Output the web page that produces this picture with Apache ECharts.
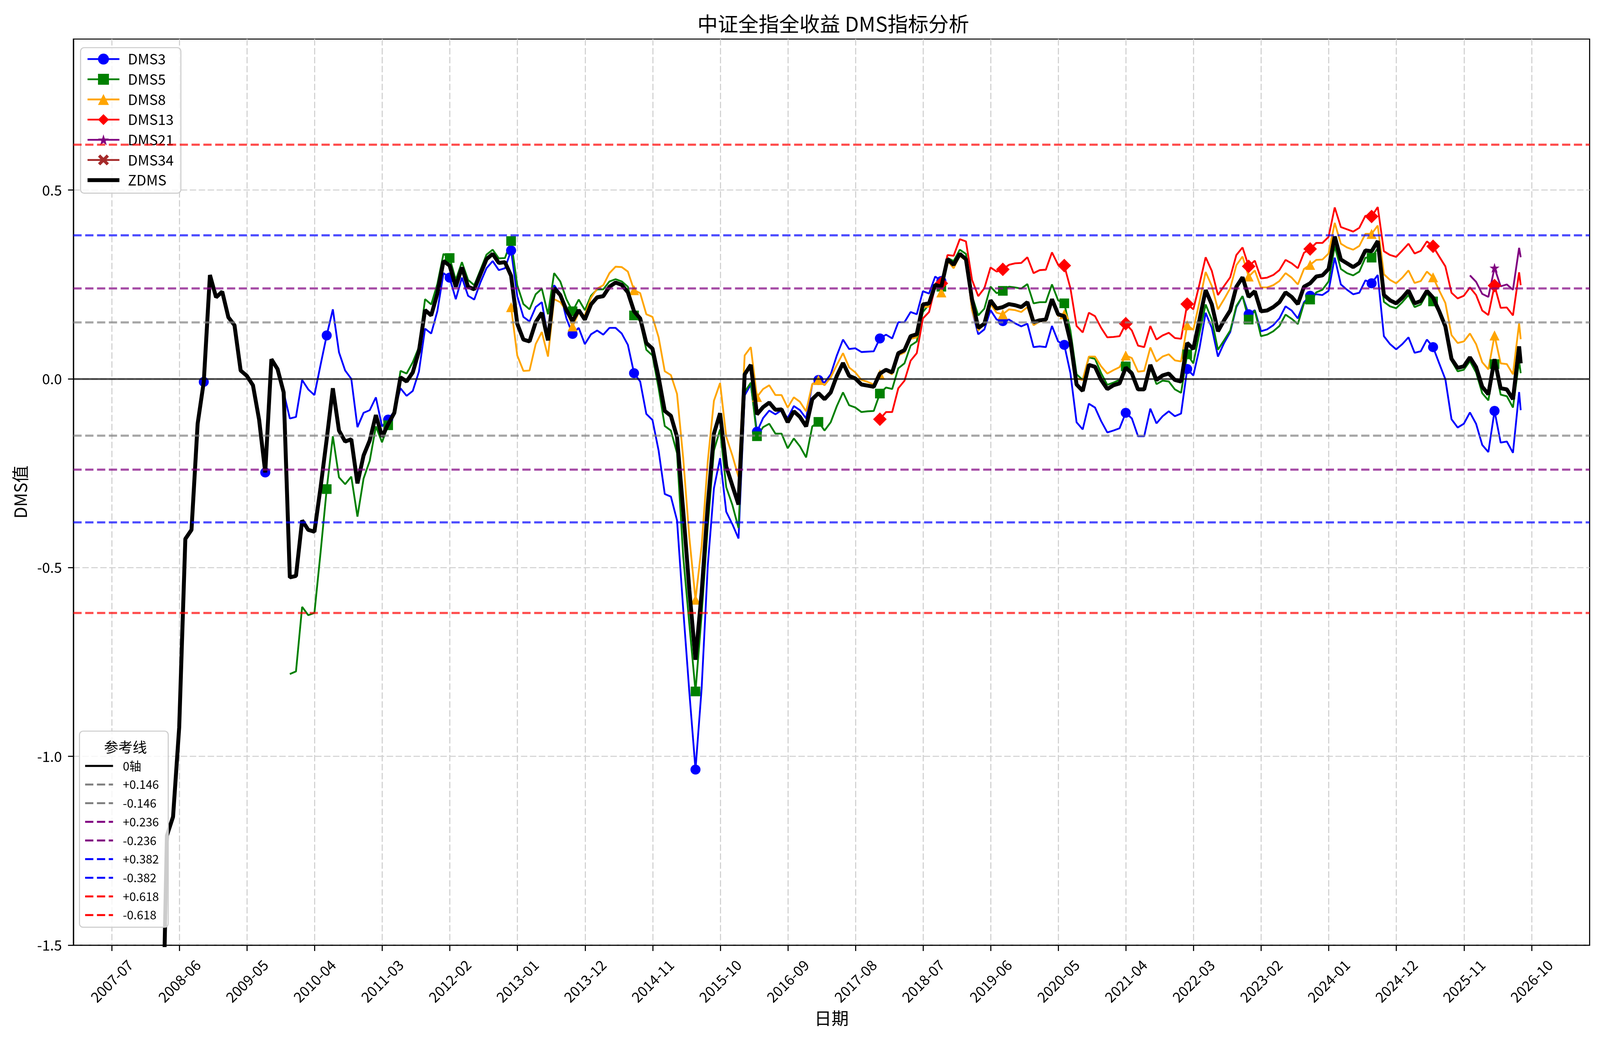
<!DOCTYPE html>
<html>
<head>
<meta charset="utf-8">
<script src="https://cdn.jsdelivr.net/npm/echarts@6/dist/echarts.min.js"></script>
<style>html,body{margin:0;padding:0;background:#fff;overflow:hidden}#c{width:100vw;height:100vh}</style>
</head>
<body>
<div id="c"></div>
<script>
// ---------------- DATA ----------------
// monthly (month-end) observations from 2007-11 plus one final partial observation
const FIRST_YEAR = 2007, FIRST_MONTH = 11, N_MONTHS = 225;
const LAST_DATE = '2026-08-08';

const xTickLabels = ['2007-07','2008-06','2009-05','2010-04','2011-03','2012-02','2013-01','2013-12','2014-11','2015-10',
  '2016-09','2017-08','2018-07','2019-06','2020-05','2021-04','2022-03','2023-02','2024-01','2024-12','2025-11','2026-10'];
const yTickValues = [-1.5, -1.0, -0.5, 0.0, 0.5];

const ZDMS = [
  -2.6, -2.4, -2.2, -2.0, -1.21, -1.16, -0.923, -0.424, -0.40, -0.119,
  -0.008, 0.275, 0.216, 0.231, 0.163, 0.142, 0.022, 0.008, -0.017, -0.108,
  -0.248, 0.052, 0.026, -0.036, -0.526, -0.522, -0.375, -0.40, -0.405, -0.288,
  -0.16, -0.025, -0.137, -0.166, -0.160, -0.277, -0.203, -0.163, -0.096, -0.153,
  -0.12, -0.09, 0.004, -0.007, 0.017, 0.073, 0.182, 0.168, 0.226, 0.312,
  0.30, 0.244, 0.295, 0.244, 0.237, 0.277, 0.317, 0.331, 0.307, 0.309,
  0.273, 0.146, 0.104, 0.099, 0.150, 0.175, 0.102, 0.240, 0.222, 0.182,
  0.153, 0.182, 0.157, 0.197, 0.216, 0.219, 0.244, 0.255, 0.249, 0.229,
  0.179, 0.160, 0.095, 0.08, 0.004, -0.085, -0.098, -0.154, -0.349, -0.559,
  -0.744, -0.566, -0.334, -0.145, -0.091, -0.232, -0.283, -0.333, 0.012, 0.037,
  -0.094, -0.075, -0.063, -0.082, -0.081, -0.115, -0.086, -0.101, -0.126, -0.054,
  -0.038, -0.054, -0.036, 0.008, 0.042, 0.008, 0.001, -0.015, -0.018, -0.021,
  0.014, 0.024, 0.017, 0.068, 0.076, 0.113, 0.118, 0.197, 0.20, 0.249,
  0.244, 0.317, 0.302, 0.331, 0.317, 0.21, 0.135, 0.146, 0.208, 0.186,
  0.19, 0.198, 0.195, 0.19, 0.203, 0.15, 0.155, 0.157, 0.211, 0.171,
  0.166, 0.099, -0.015, -0.032, 0.037, 0.032, -0.003, -0.027, -0.017, -0.012,
  0.03, 0.014, -0.028, -0.028, 0.037, -0.003, 0.009, 0.014, -0.003, -0.007,
  0.095, 0.079, 0.157, 0.235, 0.197, 0.126, 0.155, 0.181, 0.244, 0.269,
  0.217, 0.232, 0.179, 0.181, 0.19, 0.203, 0.229, 0.217, 0.198, 0.244,
  0.253, 0.271, 0.274, 0.291, 0.377, 0.316, 0.306, 0.296, 0.307, 0.34,
  0.338, 0.365, 0.222, 0.208, 0.20, 0.215, 0.234, 0.20, 0.206, 0.233,
  0.215, 0.179, 0.139, 0.053, 0.029, 0.033, 0.057, 0.031, -0.021, -0.041,
  0.052, -0.025, -0.028, -0.054, 0.086, 0.041
];

const DMS3_START = 0;
const DMS3 = [
  -2.6, -2.4, -2.2, -2.0, -1.21, -1.16, -0.923, -0.424, -0.40, -0.119,
  -0.008, 0.275, 0.216, 0.231, 0.163, 0.142, 0.022, 0.008, -0.017, -0.108,
  -0.248, 0.052, 0.026, -0.036, -0.105, -0.101, -0.003, -0.028, -0.043, 0.037,
  0.115, 0.184, 0.070, 0.022, 0.0, -0.128, -0.09, -0.083, -0.049, -0.126,
  -0.108, -0.086, -0.025, -0.045, -0.032, 0.019, 0.133, 0.12, 0.179, 0.28,
  0.268, 0.211, 0.268, 0.22, 0.21, 0.255, 0.293, 0.312, 0.288, 0.293,
  0.34, 0.219, 0.164, 0.152, 0.19, 0.203, 0.11, 0.248, 0.226, 0.16,
  0.119, 0.135, 0.092, 0.118, 0.128, 0.117, 0.135, 0.135, 0.12, 0.09,
  0.015, -0.007, -0.093, -0.109, -0.19, -0.305, -0.312, -0.375, -0.61, -0.83,
  -1.035, -0.82, -0.494, -0.29, -0.21, -0.352, -0.385, -0.423, -0.044, -0.015,
  -0.14, -0.104, -0.084, -0.094, -0.083, -0.104, -0.072, -0.083, -0.105, -0.014,
  -0.003, -0.01, 0.012, 0.062, 0.104, 0.079, 0.081, 0.071, 0.072, 0.073,
  0.107, 0.117, 0.107, 0.15, 0.15, 0.177, 0.171, 0.232, 0.226, 0.271,
  0.259, 0.32, 0.306, 0.328, 0.313, 0.182, 0.118, 0.131, 0.182, 0.157,
  0.153, 0.157, 0.147, 0.139, 0.146, 0.084, 0.086, 0.084, 0.14, 0.099,
  0.09, 0.015, -0.115, -0.134, -0.066, -0.076, -0.112, -0.142, -0.137, -0.131,
  -0.09, -0.105, -0.152, -0.152, -0.079, -0.118, -0.099, -0.086, -0.099, -0.092,
  0.026, 0.009, 0.081, 0.175, 0.135, 0.059, 0.095, 0.124, 0.19, 0.219,
  0.171, 0.182, 0.126, 0.131, 0.142, 0.16, 0.192, 0.181, 0.16, 0.203,
  0.22, 0.224, 0.222, 0.233, 0.321, 0.25, 0.236, 0.224, 0.228, 0.261,
  0.253, 0.275, 0.113, 0.092, 0.078, 0.092, 0.11, 0.069, 0.073, 0.104,
  0.084, 0.041, -0.001, -0.107, -0.129, -0.119, -0.089, -0.119, -0.175, -0.194,
  -0.085, -0.169, -0.166, -0.196, -0.035, -0.083
];

const DMS5_START = 24;
const DMS5 = [
  -0.782, -0.775, -0.604, -0.626, -0.620, -0.46,
  -0.292, -0.152, -0.261, -0.279, -0.259, -0.365, -0.264, -0.217, -0.126, -0.168,
  -0.123, -0.094, 0.021, 0.014, 0.044, 0.084, 0.211, 0.197, 0.251, 0.331,
  0.32, 0.262, 0.309, 0.262, 0.248, 0.288, 0.329, 0.342, 0.319, 0.32,
  0.365, 0.248, 0.198, 0.184, 0.224, 0.239, 0.171, 0.28, 0.258, 0.211,
  0.179, 0.21, 0.182, 0.22, 0.237, 0.237, 0.258, 0.264, 0.258, 0.244,
  0.168, 0.153, 0.077, 0.062, -0.025, -0.125, -0.137, -0.197, -0.47, -0.65,
  -0.828, -0.625, -0.39, -0.19, -0.134, -0.287, -0.334, -0.395, -0.035, -0.01,
  -0.152, -0.128, -0.119, -0.145, -0.145, -0.184, -0.158, -0.179, -0.208, -0.126,
  -0.114, -0.137, -0.115, -0.072, -0.036, -0.07, -0.076, -0.088, -0.086, -0.085,
  -0.039, -0.023, -0.027, 0.028, 0.041, 0.088, 0.099, 0.177, 0.197, 0.251,
  0.244, 0.32, 0.312, 0.342, 0.331, 0.219, 0.168, 0.186, 0.244, 0.227,
  0.233, 0.244, 0.242, 0.239, 0.251, 0.2, 0.203, 0.203, 0.25, 0.208,
  0.2, 0.128, 0.012, -0.003, 0.057, 0.053, 0.015, -0.016, -0.01, -0.003,
  0.033, 0.019, -0.025, -0.025, 0.03, -0.014, -0.005, -0.007, -0.028, -0.037,
  0.065, 0.041, 0.121, 0.197, 0.157, 0.077, 0.102, 0.128, 0.193, 0.219,
  0.157, 0.181, 0.113, 0.117, 0.126, 0.14, 0.17, 0.159, 0.145, 0.2,
  0.21, 0.229, 0.236, 0.258, 0.351, 0.291, 0.28, 0.274, 0.284, 0.321,
  0.321, 0.346, 0.204, 0.192, 0.187, 0.203, 0.222, 0.19, 0.197, 0.226,
  0.205, 0.174, 0.137, 0.048, 0.02, 0.024, 0.047, 0.017, -0.038, -0.057,
  0.039, -0.042, -0.046, -0.076, 0.047, 0.015
];

const DMS8_START = 60;
const DMS8 = [
  0.19, 0.062, 0.021, 0.022, 0.092, 0.124, 0.059, 0.211, 0.203, 0.18,
  0.139, 0.175, 0.168, 0.215, 0.239, 0.248, 0.28, 0.297, 0.296, 0.284,
  0.235, 0.227, 0.171, 0.164, 0.11, 0.02, 0.01, -0.04, -0.21, -0.42,
  -0.585, -0.443, -0.218, -0.058, -0.011, -0.153, -0.203, -0.26, 0.062, 0.084,
  -0.048, -0.027, -0.017, -0.043, -0.043, -0.076, -0.049, -0.061, -0.086, -0.014,
  -0.003, -0.017, 0.004, 0.037, 0.068, 0.03, 0.017, -0.003, -0.008, -0.015,
  0.012, 0.021, 0.012, 0.062, 0.07, 0.106, 0.11, 0.19, 0.191, 0.249,
  0.229, 0.313, 0.293, 0.326, 0.313, 0.182, 0.128, 0.146, 0.198, 0.175,
  0.171, 0.184, 0.182, 0.177, 0.19, 0.142, 0.152, 0.153, 0.208, 0.166,
  0.171, 0.102, 0.001, -0.003, 0.059, 0.059, 0.033, 0.014, 0.023, 0.031,
  0.062, 0.055, 0.019, 0.021, 0.083, 0.046, 0.059, 0.065, 0.049, 0.046,
  0.142, 0.13, 0.204, 0.283, 0.246, 0.184, 0.211, 0.24, 0.301, 0.324,
  0.271, 0.287, 0.242, 0.242, 0.248, 0.259, 0.28, 0.268, 0.25, 0.291,
  0.302, 0.315, 0.316, 0.332, 0.413, 0.358, 0.348, 0.342, 0.352, 0.384,
  0.384, 0.406, 0.277, 0.262, 0.253, 0.268, 0.287, 0.254, 0.259, 0.284,
  0.269, 0.234, 0.201, 0.116, 0.095, 0.099, 0.12, 0.092, 0.044, 0.025,
  0.115, 0.041, 0.039, 0.012, 0.147, 0.105
];

const DMS13_START = 120;
const DMS13 = [
  -0.107, -0.088, -0.088, -0.025, -0.005, 0.048, 0.068, 0.16, 0.177, 0.244,
  0.253, 0.328, 0.326, 0.37, 0.364, 0.262, 0.219, 0.24, 0.295, 0.284,
  0.29, 0.302, 0.306, 0.307, 0.322, 0.28, 0.288, 0.289, 0.335, 0.302,
  0.30, 0.24, 0.14, 0.123, 0.175, 0.166, 0.135, 0.11, 0.111, 0.113,
  0.146, 0.128, 0.088, 0.084, 0.14, 0.104, 0.115, 0.122, 0.108, 0.106,
  0.198, 0.184, 0.251, 0.322, 0.286, 0.222, 0.246, 0.269, 0.328, 0.348,
  0.298, 0.313, 0.266, 0.268, 0.275, 0.288, 0.315, 0.306, 0.293, 0.334,
  0.344, 0.36, 0.36, 0.376, 0.454, 0.402, 0.396, 0.39, 0.40, 0.432,
  0.43, 0.455, 0.338, 0.328, 0.323, 0.34, 0.358, 0.332, 0.339, 0.364,
  0.351, 0.324, 0.298, 0.228, 0.213, 0.22, 0.242, 0.222, 0.181, 0.169,
  0.247, 0.188, 0.189, 0.168, 0.282, 0.248
];

const DMS21_START = 216;
const DMS21 = [0.274, 0.257, 0.225, 0.217, 0.294, 0.245, 0.25, 0.236, 0.347, 0.322];

const DMS34_START = 0;
const DMS34 = [];

const REF_LEVELS = [0.146, 0.236, 0.382, 0.618];

// ---------------- LAYOUT SCALE (designed for 4469 x 2668) ----------------
const W = window.innerWidth || 4469, H = window.innerHeight || 2668;
const sx = W / 4469, sy = H / 2668, sf = Math.min(sx, sy);
const X = v => v * sx, Y = v => v * sy, F = v => v * sf;

// ---------------- BUILD ----------------
function buildDates() {
  const out = [];
  let y = FIRST_YEAR, m = FIRST_MONTH;
  for (let i = 0; i < N_MONTHS; i++) {
    const dim = new Date(y, m, 0).getDate();
    out.push(y + '-' + String(m).padStart(2, '0') + '-' + dim);
    m++; if (m > 12) { m = 1; y++; }
  }
  out.push(LAST_DATE);
  return out;
}
const dates = buildDates();
const N = dates.length;

function monthPos(str) {
  const p = str.split('-').map(Number);
  const y = p[0], m = p[1], d = p[2] || 1;
  const dim = new Date(y, m, 0).getDate();
  return (y - 2007) * 12 + (m - 7) + (d - 1) / dim;
}
const xs = dates.map(monthPos);
const xTickValues = xTickLabels.map(monthPos);
const span = xs[N - 1] - xs[0];
const xMin = xs[0] - 0.05 * span, xMax = xs[N - 1] + 0.05 * span;

function pad(start, vals) {
  const a = new Array(N).fill(null);
  vals.forEach((v, i) => { a[start + i] = v; });
  return a;
}

const FONT = '"Noto Sans CJK SC", "Noto Sans", sans-serif';
const STAR = 'path://M0,-1 L0.2245,-0.309 L0.951,-0.309 L0.363,0.118 L0.588,0.809 L0,0.382 L-0.588,0.809 L-0.363,0.118 L-0.951,-0.309 L-0.2245,-0.309 Z';
const XMARK = 'path://M0,20 L20,0 L50,30 L80,0 L100,20 L70,50 L100,80 L80,100 L50,70 L20,100 L0,80 L30,50 Z';
const DMS_W = F(5), Z_W = F(11);

function dmsSeries(name, start, vals, color, symbol, size) {
  const arr = pad(start, vals);
  const s = F(size);
  return {
    name, type: 'line', z: 2,
    data: arr.map((v, i) => [xs[i], v]),
    color: color,
    symbol: symbol,
    symbolSize: (val, p) => (p.dataIndex % 10 === 0 ? s : 0),
    showSymbol: true, showAllSymbol: true,
    lineStyle: { width: DMS_W, color: color },
    itemStyle: { color: color },
    emphasis: { disabled: true },
    animation: false, clip: true
  };
}

const series = [
  dmsSeries('DMS3', DMS3_START, DMS3, '#0000ff', 'circle', 28),
  dmsSeries('DMS5', DMS5_START, DMS5, '#008000', 'rect', 27),
  dmsSeries('DMS8', DMS8_START, DMS8, '#ffa500', 'triangle', 28),
  dmsSeries('DMS13', DMS13_START, DMS13, '#ff0000', 'diamond', 38),
  dmsSeries('DMS21', DMS21_START, DMS21, '#800080', STAR, 28),
  dmsSeries('DMS34', DMS34_START, DMS34, '#a52a2a', XMARK, 26),
  {
    name: 'ZDMS', type: 'line', z: 3,
    data: ZDMS.map((v, i) => [xs[i], v]),
    color: '#000000', symbol: 'none', showSymbol: false,
    lineStyle: { width: Z_W, color: '#000000' },
    emphasis: { disabled: true }, animation: false, clip: true
  }
];
const seriesColors = { DMS3: '#0000ff', DMS5: '#008000', DMS8: '#ffa500', DMS13: '#ff0000', DMS21: '#800080', DMS34: '#a52a2a', ZDMS: '#000000' };

// reference lines (drawn through markLine)
const DASH = [F(23), F(10)];
const refDefs = [{ name: '0轴', value: 0, legendColor: '#000000', color: 'rgba(0,0,0,0.72)', type: 'solid', width: F(5) }];
const refColors = [['#808080', 'rgba(128,128,128,0.7)'], ['#800080', 'rgba(128,0,128,0.7)'], ['#0000ff', 'rgba(0,0,255,0.7)'], ['#ff0000', 'rgba(255,0,0,0.7)']];
REF_LEVELS.forEach((lv, k) => {
  refDefs.push({ name: '+' + lv.toFixed(3), value: lv, legendColor: refColors[k][0], color: refColors[k][1], type: DASH, width: F(6) });
  refDefs.push({ name: '-' + lv.toFixed(3), value: -lv, legendColor: refColors[k][0], color: refColors[k][1], type: DASH, width: F(6) });
});
refDefs.forEach(r => {
  series.push({
    name: r.name, type: 'line', data: [], symbol: 'none',
    color: r.legendColor,
    lineStyle: { color: r.legendColor, type: r.type, width: F(5.5) },
    itemStyle: { color: r.legendColor },
    animation: false,
    markLine: {
      silent: true, symbol: ['none', 'none'], z: 11, animation: false,
      label: { show: false },
      lineStyle: { color: r.color, type: r.type, width: r.width },
      emphasis: { disabled: true },
      data: [{ yAxis: r.value }]
    }
  });
});

const seriesNames = ['DMS3', 'DMS5', 'DMS8', 'DMS13', 'DMS21', 'DMS34', 'ZDMS'];

const option = {
  backgroundColor: '#ffffff',
  animation: false,
  title: [
    { text: '中证全指全收益 DMS指标分析', left: X(2322), top: Y(56), textAlign: 'center', textVerticalAlign: 'middle',
      textStyle: { fontFamily: FONT, fontSize: F(57), fontWeight: 'normal', color: '#000' } },
    { text: '参考线', left: X(345), top: Y(1908), textAlign: 'center', textVerticalAlign: 'middle', z: 12,
      textStyle: { fontFamily: FONT, fontSize: F(40), fontWeight: 'normal', color: '#000' } }
  ],
  grid: { left: X(205), right: X(29), top: Y(100), bottom: Y(248), show: true, borderColor: '#000', borderWidth: F(3), backgroundColor: 'transparent' },
  legend: [
    {
      data: seriesNames.map(n => ({
        name: n,
        itemStyle: n === 'ZDMS' ? { opacity: 0 } : { color: seriesColors[n] },
        lineStyle: { width: n === 'ZDMS' ? Z_W : DMS_W, color: seriesColors[n], type: 'solid' }
      })),
      orient: 'vertical', left: X(225), top: Y(122),
      itemWidth: X(89), itemHeight: Y(35), itemGap: Y(15),
      padding: [Y(11), X(20), Y(15), X(14)],
      backgroundColor: 'rgba(255,255,255,0.8)', borderColor: '#cccccc', borderWidth: F(3), borderRadius: F(10),
      textStyle: { fontFamily: FONT, fontSize: F(40), color: '#000', padding: [0, 0, 0, X(18)] },
      selectedMode: false, z: 10
    },
    {
      data: refDefs.map(r => ({
        name: r.name,
        itemStyle: { opacity: 0 },
        lineStyle: { width: F(5.5), color: r.legendColor, type: r.type }
      })),
      orient: 'vertical', left: X(222), top: Y(1872),
      itemWidth: X(78), itemHeight: Y(33), itemGap: Y(17.5),
      padding: [Y(74), X(26), Y(16), X(13)],
      backgroundColor: 'rgba(255,255,255,0.8)', borderColor: '#cccccc', borderWidth: F(3), borderRadius: F(10),
      textStyle: { fontFamily: FONT, fontSize: F(33), color: '#000', padding: [0, 0, 0, X(22)] },
      selectedMode: false, z: 10
    }
  ],
  xAxis: {
    type: 'value', min: xMin, max: xMax,
    name: '日期', nameLocation: 'middle', nameGap: Y(165),
    nameTextStyle: { fontFamily: FONT, fontSize: F(48), color: '#000' },
    axisLine: { show: true, onZero: false, lineStyle: { color: '#000', width: F(3) } },
    axisTick: { show: true, inside: false, length: Y(15), customValues: xTickValues, lineStyle: { color: '#000', width: F(3) } },
    axisLabel: {
      customValues: xTickValues, rotate: 45, align: 'center', verticalAlign: 'middle', margin: Y(92),
      fontFamily: FONT, fontSize: F(40), color: '#000',
      formatter: v => { const i = xTickValues.findIndex(t => Math.abs(t - v) < 1e-6); return i >= 0 ? xTickLabels[i] : ''; }
    },
    splitLine: { show: true, customValues: xTickValues, lineStyle: { color: '#d0d0d0', width: F(3), type: [F(18), F(7)] } }
  },
  yAxis: {
    type: 'value', min: -1.5, max: 0.9,
    name: 'DMS值', nameLocation: 'middle', nameGap: X(124),
    nameTextStyle: { fontFamily: FONT, fontSize: F(48), color: '#000' },
    axisLine: { show: true, onZero: false, lineStyle: { color: '#000', width: F(3) } },
    axisTick: { show: true, inside: false, length: X(15), customValues: yTickValues, lineStyle: { color: '#000', width: F(3) } },
    axisLabel: { customValues: yTickValues, margin: X(32), fontFamily: FONT, fontSize: F(40), color: '#000',
      formatter: v => v.toFixed(1) },
    splitLine: { show: true, customValues: yTickValues, lineStyle: { color: '#d0d0d0', width: F(3), type: [F(18), F(7)] } }
  },
  series: series
};

const chart = echarts.init(document.getElementById('c'), null, { renderer: 'canvas' });
chart.setOption(option);
</script>
</body>
</html>
